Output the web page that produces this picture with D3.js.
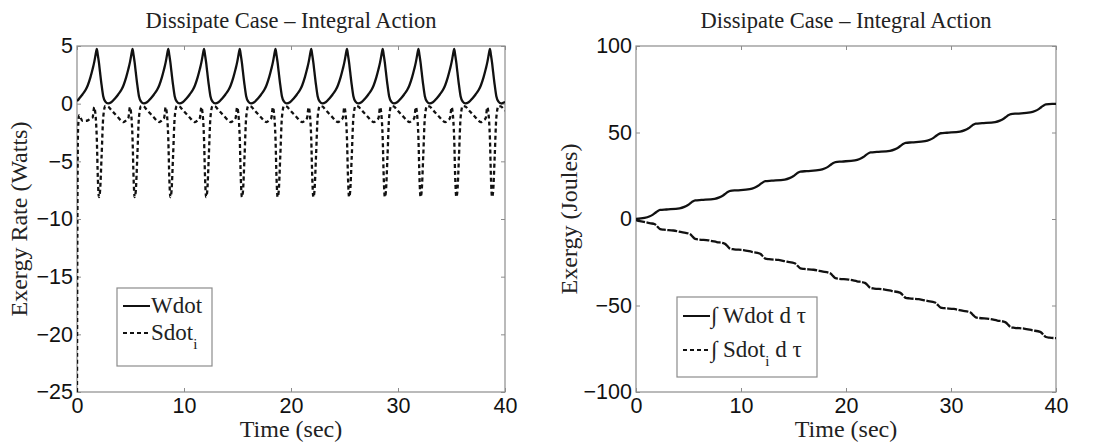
<!DOCTYPE html>
<html lang="en">
<head>
<meta charset="UTF-8">
<title>Dissipate Case - Integral Action</title>
<script src="https://cdnjs.cloudflare.com/ajax/libs/d3/7.8.5/d3.min.js"></script>
<style>
    * {
        margin: 0;
        padding: 0;
    }

    body {
        background: #fff;
    }

    svg {
        display: block;
        font-family: "Liberation Serif", "Times New Roman", serif;
    }

    .tick line {
        stroke: #8c8c8c;
    }

    .tick text {
        font-size: 21.5px;
        fill: #111;
    }
</style>
</head>
<body>
<svg id="chart" width="1098" height="448"></svg>
<script>
    // ---- left panel: exergy rates (W) ----
    var rateTime = [
        0, 0.04, 0.1, 0.21, 0.51, 0.81, 1.01, 1.26, 1.46, 1.61, 1.71, 1.78,
        1.85, 1.95, 2.05, 2.15, 2.3, 2.45, 2.65, 2.9, 3.2, 3.55, 3.85, 4.15, 4.35, 4.6, 4.8, 4.95, 5.05, 5.12,
        5.19, 5.29, 5.39, 5.49, 5.64, 5.79, 5.99, 6.24, 6.54, 6.89, 7.19, 7.49, 7.69, 7.94, 8.14, 8.29, 8.39, 8.46,
        8.53, 8.63, 8.73, 8.83, 8.98, 9.13, 9.33, 9.58, 9.88, 10.23, 10.53, 10.83, 11.03, 11.28, 11.48, 11.63, 11.73, 11.8,
        11.87, 11.97, 12.07, 12.17, 12.32, 12.47, 12.67, 12.92, 13.22, 13.57, 13.87, 14.17, 14.37, 14.62, 14.82, 14.97, 15.07, 15.14,
        15.21, 15.31, 15.41, 15.51, 15.66, 15.81, 16.01, 16.26, 16.56, 16.91, 17.21, 17.51, 17.71, 17.96, 18.16, 18.31, 18.41, 18.48,
        18.55, 18.65, 18.75, 18.85, 19.0, 19.15, 19.35, 19.6, 19.9, 20.25, 20.55, 20.85, 21.05, 21.3, 21.5, 21.65, 21.75, 21.82,
        21.89, 21.99, 22.09, 22.19, 22.34, 22.49, 22.69, 22.94, 23.24, 23.59, 23.89, 24.19, 24.39, 24.64, 24.84, 24.99, 25.09, 25.16,
        25.23, 25.33, 25.43, 25.53, 25.68, 25.83, 26.03, 26.28, 26.58, 26.93, 27.23, 27.53, 27.73, 27.98, 28.18, 28.33, 28.43, 28.5,
        28.57, 28.67, 28.77, 28.87, 29.02, 29.17, 29.37, 29.62, 29.92, 30.27, 30.57, 30.87, 31.07, 31.32, 31.52, 31.67, 31.77, 31.84,
        31.91, 32.01, 32.11, 32.21, 32.36, 32.51, 32.71, 32.96, 33.26, 33.61, 33.91, 34.21, 34.41, 34.66, 34.86, 35.01, 35.11, 35.18,
        35.25, 35.35, 35.45, 35.55, 35.7, 35.85, 36.05, 36.3, 36.6, 36.95, 37.25, 37.55, 37.75, 38.0, 38.2, 38.35, 38.45, 38.52,
        38.59, 38.69, 38.79, 38.89, 39.04, 39.19, 39.39, 39.64, 39.94, 40.0
    ];

    var wdotRate = [
        0.25, 0.27, 0.32, 0.45, 0.8, 1.2, 1.6, 2.3, 3.0, 3.6, 4.1, 4.45,
        4.75, 4.2, 3.55, 2.75, 1.6, 0.65, 0.18, 0.02, 0.12, 0.45, 0.8, 1.2, 1.6, 2.3, 3.0, 3.6, 4.1, 4.45,
        4.75, 4.2, 3.55, 2.75, 1.6, 0.65, 0.18, 0.02, 0.12, 0.45, 0.8, 1.2, 1.6, 2.3, 3.0, 3.6, 4.1, 4.45,
        4.75, 4.2, 3.55, 2.75, 1.6, 0.65, 0.18, 0.02, 0.12, 0.45, 0.8, 1.2, 1.6, 2.3, 3.0, 3.6, 4.1, 4.45,
        4.75, 4.2, 3.55, 2.75, 1.6, 0.65, 0.18, 0.02, 0.12, 0.45, 0.8, 1.2, 1.6, 2.3, 3.0, 3.6, 4.1, 4.45,
        4.75, 4.2, 3.55, 2.75, 1.6, 0.65, 0.18, 0.02, 0.12, 0.45, 0.8, 1.2, 1.6, 2.3, 3.0, 3.6, 4.1, 4.45,
        4.75, 4.2, 3.55, 2.75, 1.6, 0.65, 0.18, 0.02, 0.12, 0.45, 0.8, 1.2, 1.6, 2.3, 3.0, 3.6, 4.1, 4.45,
        4.75, 4.2, 3.55, 2.75, 1.6, 0.65, 0.18, 0.02, 0.12, 0.45, 0.8, 1.2, 1.6, 2.3, 3.0, 3.6, 4.1, 4.45,
        4.75, 4.2, 3.55, 2.75, 1.6, 0.65, 0.18, 0.02, 0.12, 0.45, 0.8, 1.2, 1.6, 2.3, 3.0, 3.6, 4.1, 4.45,
        4.75, 4.2, 3.55, 2.75, 1.6, 0.65, 0.18, 0.02, 0.12, 0.45, 0.8, 1.2, 1.6, 2.3, 3.0, 3.6, 4.1, 4.45,
        4.75, 4.2, 3.55, 2.75, 1.6, 0.65, 0.18, 0.02, 0.12, 0.45, 0.8, 1.2, 1.6, 2.3, 3.0, 3.6, 4.1, 4.45,
        4.75, 4.2, 3.55, 2.75, 1.6, 0.65, 0.18, 0.02, 0.12, 0.45, 0.8, 1.2, 1.6, 2.3, 3.0, 3.6, 4.1, 4.45,
        4.75, 4.2, 3.55, 2.75, 1.6, 0.65, 0.18, 0.02, 0.12, 0.14
    ];

    var sdotRate = [
        -25, -10, -2.2, -1.0, -1.5, -1.5, -1.45, -1.3, -1.2, -0.3, -0.8, -1.6,
        -3.0, -6.5, -8.1, -7.6, -4.5, -1.2, -0.2, -0.25, -0.55, -0.9, -1.2, -1.5, -1.6, -1.45, -1.25, -0.3, -0.8, -1.6,
        -3.0, -6.5, -8.1, -7.6, -4.5, -1.2, -0.2, -0.25, -0.55, -0.9, -1.2, -1.5, -1.6, -1.45, -1.25, -0.3, -0.8, -1.6,
        -3.0, -6.5, -8.1, -7.6, -4.5, -1.2, -0.2, -0.25, -0.55, -0.9, -1.2, -1.5, -1.6, -1.45, -1.25, -0.3, -0.8, -1.6,
        -3.0, -6.5, -8.1, -7.6, -4.5, -1.2, -0.2, -0.25, -0.55, -0.9, -1.2, -1.5, -1.6, -1.45, -1.25, -0.3, -0.8, -1.6,
        -3.0, -6.5, -8.1, -7.6, -4.5, -1.2, -0.2, -0.25, -0.55, -0.9, -1.2, -1.5, -1.6, -1.45, -1.25, -0.3, -0.8, -1.6,
        -3.0, -6.5, -8.1, -7.6, -4.5, -1.2, -0.2, -0.25, -0.55, -0.9, -1.2, -1.5, -1.6, -1.45, -1.25, -0.3, -0.8, -1.6,
        -3.0, -6.5, -8.1, -7.6, -4.5, -1.2, -0.2, -0.25, -0.55, -0.9, -1.2, -1.5, -1.6, -1.45, -1.25, -0.3, -0.8, -1.6,
        -3.0, -6.5, -8.1, -7.6, -4.5, -1.2, -0.2, -0.25, -0.55, -0.9, -1.2, -1.5, -1.6, -1.45, -1.25, -0.3, -0.8, -1.6,
        -3.0, -6.5, -8.1, -7.6, -4.5, -1.2, -0.2, -0.25, -0.55, -0.9, -1.2, -1.5, -1.6, -1.45, -1.25, -0.3, -0.8, -1.6,
        -3.0, -6.5, -8.1, -7.6, -4.5, -1.2, -0.2, -0.25, -0.55, -0.9, -1.2, -1.5, -1.6, -1.45, -1.25, -0.3, -0.8, -1.6,
        -3.0, -6.5, -8.1, -7.6, -4.5, -1.2, -0.2, -0.25, -0.55, -0.9, -1.2, -1.5, -1.6, -1.45, -1.25, -0.3, -0.8, -1.6,
        -3.0, -6.5, -8.1, -7.6, -4.5, -1.2, -0.2, -0.25, -0.55, -0.6
    ];

    // ---- right panel: integrated exergy (J) ----
    var workTime = [
        0, 0.81, 1.26, 1.61, 1.85, 2.05, 2.3, 2.9,
        4.15, 4.6, 4.95, 5.19, 5.39, 5.64, 6.24,
        7.49, 7.94, 8.29, 8.53, 8.73, 8.98, 9.58,
        10.83, 11.28, 11.63, 11.87, 12.07, 12.32, 12.92,
        14.17, 14.62, 14.97, 15.21, 15.41, 15.66, 16.26,
        17.51, 17.96, 18.31, 18.55, 18.75, 19.0, 19.6,
        20.85, 21.3, 21.65, 21.89, 22.09, 22.34, 22.94,
        24.19, 24.64, 24.99, 25.23, 25.43, 25.68, 26.28,
        27.53, 27.98, 28.33, 28.57, 28.77, 29.02, 29.62,
        30.87, 31.32, 31.67, 31.91, 32.11, 32.36, 32.96,
        34.21, 34.66, 35.01, 35.25, 35.45, 35.7, 36.3,
        37.55, 38.0, 38.35, 38.59, 38.79, 39.04, 39.64, 40.0
    ];

    var workInt = [
        0, 0.61, 1.43, 2.53, 3.62, 4.51, 5.21, 5.5,
        6.16, 6.98, 8.08, 9.17, 10.06, 10.76, 11.04,
        11.7, 12.52, 13.62, 14.71, 15.6, 16.3, 16.59,
        17.25, 18.07, 19.17, 20.26, 21.15, 21.85, 22.13,
        22.79, 23.61, 24.71, 25.8, 26.69, 27.39, 27.68,
        28.34, 29.16, 30.26, 31.35, 32.24, 32.94, 33.22,
        33.88, 34.7, 35.8, 36.89, 37.78, 38.48, 38.77,
        39.43, 40.25, 41.35, 42.44, 43.33, 44.03, 44.31,
        44.97, 45.79, 46.89, 47.98, 48.87, 49.57, 49.86,
        50.52, 51.34, 52.44, 53.53, 54.42, 55.12, 55.4,
        56.06, 56.88, 57.98, 59.07, 59.96, 60.66, 60.95,
        61.61, 62.43, 63.53, 64.62, 65.51, 66.21, 66.49, 66.5
    ];

    var destTime = [
        0, 0.1, 0.5, 1.0, 1.4,
        1.75, 1.85, 2.05, 2.3, 2.65, 3.55, 4.35,
        5.09, 5.19, 5.39, 5.64, 5.99, 6.89, 7.69,
        8.43, 8.53, 8.73, 8.98, 9.33, 10.23, 11.03,
        11.77, 11.87, 12.07, 12.32, 12.67, 13.57, 14.37,
        15.11, 15.21, 15.41, 15.66, 16.01, 16.91, 17.71,
        18.45, 18.55, 18.75, 19.0, 19.35, 20.25, 21.05,
        21.79, 21.89, 22.09, 22.34, 22.69, 23.59, 24.39,
        25.13, 25.23, 25.43, 25.68, 26.03, 26.93, 27.73,
        28.47, 28.57, 28.77, 29.02, 29.37, 30.27, 31.07,
        31.81, 31.91, 32.11, 32.36, 32.71, 33.61, 34.41,
        35.15, 35.25, 35.45, 35.7, 36.05, 36.95, 37.75,
        38.49, 38.59, 38.79, 39.04, 39.39, 40.0
    ];

    var destInt = [
        0, -0.9, -1.4, -2.0, -2.5,
        -2.9, -3.25, -4.5, -5.85, -6.2, -6.65, -7.65,
        -8.57, -8.92, -10.17, -11.52, -11.87, -12.32, -13.32,
        -14.24, -14.59, -15.84, -17.19, -17.54, -17.99, -18.99,
        -19.91, -20.26, -21.51, -22.86, -23.21, -23.66, -24.66,
        -25.58, -25.93, -27.18, -28.53, -28.88, -29.33, -30.33,
        -31.25, -31.6, -32.85, -34.2, -34.55, -35.0, -36.0,
        -36.92, -37.27, -38.52, -39.87, -40.22, -40.67, -41.67,
        -42.59, -42.94, -44.19, -45.54, -45.89, -46.34, -47.34,
        -48.26, -48.61, -49.86, -51.21, -51.56, -52.01, -53.01,
        -53.93, -54.28, -55.53, -56.88, -57.23, -57.68, -58.68,
        -59.6, -59.95, -61.2, -62.55, -62.9, -63.35, -64.35,
        -65.27, -65.62, -66.87, -68.22, -68.57, -68.85
    ];

    var timeTicks = [0, 10, 20, 30, 40];
    var rateTicks = [-25, -20, -15, -10, -5, 0, 5];
    var energyTicks = [-100, -50, 0, 50, 100];
    var chartTitle = 'Dissipate Case \u2013 Integral Action';

    var svg = d3.select('#chart');

    // draws the frame, ticks and labels of one subplot, returns the scales
    function drawPanel(id, box, yDomain, yTicks, yLabel, yLabelX) {
        var x = d3.scaleLinear().domain([0, 40]).range([box.x0, box.x1]);
        var y = d3.scaleLinear().domain(yDomain).range([box.y1, box.y0]);
        var g = svg.append('g').attr('id', id);

        g.append('clipPath').attr('id', id + '-clip')
            .append('rect')
            .attr('x', box.x0).attr('y', box.y0)
            .attr('width', box.x1 - box.x0).attr('height', box.y1 - box.y0);

        var fmt = function(d) { return d3.format('d')(d); };

        g.append('g').attr('transform', 'translate(0,' + box.y1 + ')')
            .call(d3.axisBottom(x).tickValues(timeTicks).tickFormat(fmt).tickSizeInner(-4).tickSizeOuter(0).tickPadding(6));
        g.append('g').attr('transform', 'translate(0,' + box.y0 + ')')
            .call(d3.axisTop(x).tickValues(timeTicks).tickFormat('').tickSizeInner(-4).tickSizeOuter(0));
        g.append('g').attr('transform', 'translate(' + box.x0 + ',0)')
            .call(d3.axisLeft(y).tickValues(yTicks).tickFormat(fmt).tickSizeInner(-4).tickSizeOuter(0).tickPadding(4));
        g.append('g').attr('transform', 'translate(' + box.x1 + ',0)')
            .call(d3.axisRight(y).tickValues(yTicks).tickFormat('').tickSizeInner(-4).tickSizeOuter(0));
        g.selectAll('.domain').remove();
        g.selectAll('.tick text').attr('font-family', null);

        g.append('rect')
            .attr('x', box.x0).attr('y', box.y0)
            .attr('width', box.x1 - box.x0).attr('height', box.y1 - box.y0)
            .attr('fill', 'none').attr('stroke', '#8c8c8c').attr('stroke-width', 1.2);

        g.append('text')
            .attr('x', (box.x0 + box.x1) / 2).attr('y', 28)
            .attr('text-anchor', 'middle').attr('font-size', 22.5).attr('fill', '#222')
            .text(chartTitle);

        g.append('text')
            .attr('x', (box.x0 + box.x1) / 2).attr('y', 437)
            .attr('text-anchor', 'middle').attr('font-size', 24).attr('fill', '#222')
            .text('Time (sec)');

        g.append('text')
            .attr('transform', 'translate(' + yLabelX + ',' + (box.y0 + box.y1) / 2 + ') rotate(-90)')
            .attr('text-anchor', 'middle').attr('font-size', 24).attr('fill', '#222')
            .text(yLabel);

        return { x: x, y: y, g: g, clip: 'url(#' + id + '-clip)' };
    }

    function addLine(p, xs, ys, dash, curve) {
        var line = d3.line()
            .x(function(d) { return p.x(d[0]); })
            .y(function(d) { return p.y(d[1]); })
            .curve(curve);
        p.g.append('path')
            .datum(d3.zip(xs, ys))
            .attr('clip-path', p.clip)
            .attr('d', line)
            .attr('fill', 'none')
            .attr('stroke', '#111')
            .attr('stroke-width', 2.3)
            .attr('stroke-dasharray', dash)
            .attr('stroke-linejoin', 'round');
    }

    function addLegend(p, box, rows) {
        var lg = p.g.append('g');
        lg.append('rect')
            .attr('x', box.x).attr('y', box.y).attr('width', box.w).attr('height', box.h)
            .attr('fill', '#fff').attr('stroke', '#8c8c8c').attr('stroke-width', 1.2);
        rows.forEach(function(r, i) {
            var cy = box.y + box.first + i * box.step;
            lg.append('line')
                .attr('x1', box.x + 6).attr('x2', box.x + 33)
                .attr('y1', cy).attr('y2', cy)
                .attr('stroke', '#111').attr('stroke-width', 2)
                .attr('stroke-dasharray', r.dash);
            var t = lg.append('text')
                .attr('x', box.x + 34).attr('y', cy + 7)
                .attr('font-size', 23).attr('fill', '#222');
            t.append('tspan').text(r.pre);
            if (r.sub) {
                t.append('tspan').attr('dy', 9).attr('font-size', 15).text(r.sub);
                t.append('tspan').attr('dy', -9).text(r.post);
            }
        });
    }

    var left = drawPanel('rate', { x0: 77, x1: 505, y0: 46, y1: 392 }, [-25, 5], rateTicks, 'Exergy Rate (Watts)', 27);
    addLine(left, rateTime, wdotRate, null, d3.curveMonotoneX);
    addLine(left, rateTime, sdotRate, '4,3', d3.curveMonotoneX);
    addLegend(left, { x: 117, y: 288, w: 95, h: 78, first: 18, step: 27 }, [
        { dash: null, pre: 'Wdot' },
        { dash: '4,3', pre: 'Sdot', sub: 'i', post: '' }
    ]);

    var right = drawPanel('energy', { x0: 636, x1: 1056, y0: 46, y1: 392 }, [-100, 100], energyTicks, 'Exergy (Joules)', 577);
    addLine(right, workTime, workInt, null, d3.curveMonotoneX);
    addLine(right, destTime, destInt, '10,1.5', d3.curveMonotoneX);
    addLegend(right, { x: 677, y: 297, w: 140, h: 80, first: 19, step: 34 }, [
        { dash: null, pre: '\u222B Wdot d \u03C4' },
        { dash: '4,3', pre: '\u222B Sdot', sub: 'i', post: ' d \u03C4' }
    ]);
</script>
</body>
</html>
